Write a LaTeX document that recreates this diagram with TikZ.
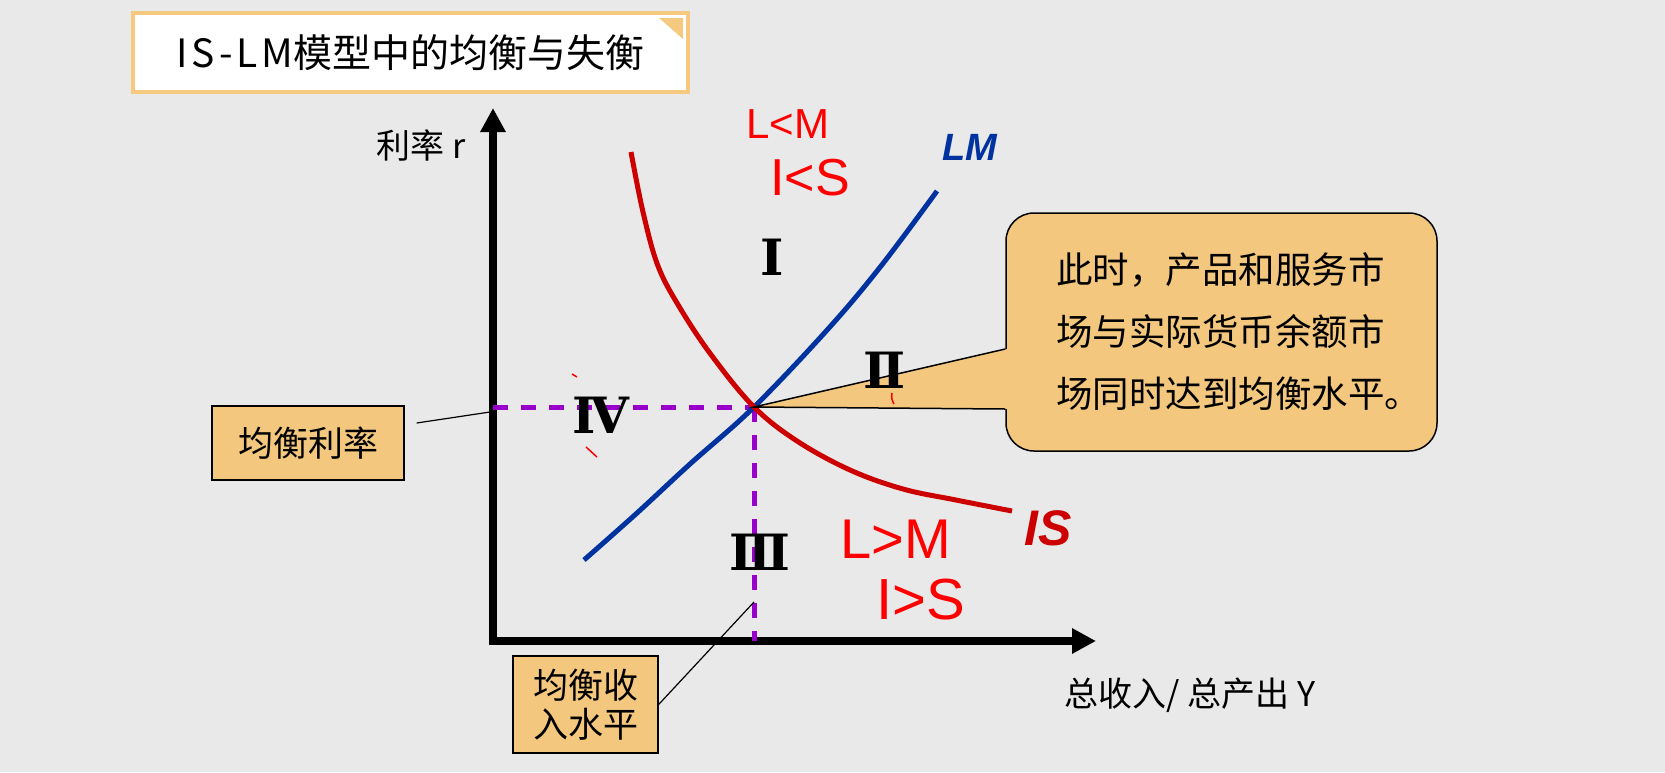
\documentclass[tikz,border=0pt]{standalone}
\usepackage{fontspec}
\setmainfont{Noto Sans CJK SC}
\newfontfamily\curvefont{Liberation Sans}
\newfontfamily\numfont{DejaVu Serif}
\newfontfamily\handfont{Liberation Sans}
\usepackage{tikz}
\usetikzlibrary{arrows.meta, calc}
\definecolor{bgcolor}{HTML}{E9E9E9}
\definecolor{boxcolor}{HTML}{F3C77E}
\definecolor{framecolor}{HTML}{F5C97F}
\definecolor{lmcolor}{HTML}{0033A0}
\definecolor{iscolor}{HTML}{CC0000}
\definecolor{eqcolor}{HTML}{9900CC}
\definecolor{handcolor}{HTML}{FF0000}

\begin{document}
\begin{tikzpicture}[x=1pt, y=-1pt,
    axis/.style={line width=8pt, {Triangle[length=24pt, width=24pt]}-{Triangle[length=24pt, width=24pt]}},
    curve/.style={line width=5pt},
    eqline/.style={eqcolor, line width=5pt, dash pattern=on 15pt off 13pt},
    tag/.style={draw=black, line width=1.3pt, fill=boxcolor, align=center,
        font=\fontsize{35}{42}\selectfont},
    pointer/.style={black, line width=1.2pt},
    numeral/.style={font=\numfont\bfseries\fontsize{50}{50}\selectfont},
    hand/.style={handcolor, font=\handfont\fontsize{#1}{#1}\selectfont},
    handmark/.style={handcolor, line width=1.5pt}]
    % Background
    \useasboundingbox (0,0) rectangle (1665,772);
    \fill[bgcolor] (0,0) rectangle (1665,772);

    % Title
    \node[draw=framecolor, line width=4pt, fill=white, minimum width=555pt,
          minimum height=79pt, font=\fontsize{39}{39}\selectfont] (title)
        at (410.5,52.5) {{\addfontfeature{LetterSpace=10}IS-LM}模型中的均衡与失衡};
    \fill[framecolor] ([shift={(-31,7)}]title.north east)
        -- ([shift={(-7,7)}]title.north east)
        -- ([shift={(-7,28)}]title.north east) -- cycle;

    % Axes
    \coordinate (O) at (493,641);
    \coordinate (ytip) at (493,108);
    \coordinate (xtip) at (1096,641);
    \draw[axis] (ytip) -- (O) -- (xtip);
    \node[font=\fontsize{34}{34}\selectfont] (rlab) at (421,145) {利率 r};
    \node[font=\fontsize{34}{34}\selectfont] (ylab) at (1190,695) {总收入/ 总产出 Y};

    % Equilibrium
    \coordinate (E) at (754,407);
    \draw[eqline] (E -| O) -- (E);
    \draw[eqline] (E) -- (E |- O);

    % Curves
    \draw[curve, lmcolor] plot[smooth, tension=0.6] coordinates
        {(584,560) (637,513) (690,464) (E) (828,329) (881,266) (937,191)};
    \draw[curve, iscolor] plot[smooth, tension=0.6] coordinates
        {(631,152) (643,212) (658,266) (680,308) (712,356) (E) (797,441)
         (850,470) (903,489) (956,500) (1012,511)};
    \node[lmcolor, font=\curvefont\bfseries\itshape\fontsize{38}{38}\selectfont]
        (lmlab) at (970,147) {LM};
    \node[iscolor, font=\curvefont\bfseries\itshape\fontsize{50}{50}\selectfont]
        (islab) at (1048,528) {IS};

    % Callout
    \node[draw=black, line width=1.5pt, fill=boxcolor, rounded corners=28pt,
          text width=331pt, inner xsep=50pt, minimum height=238pt, align=left,
          font=\fontsize{36.5}{62}\selectfont] (note) at (1221.5,332)
        {此时，产品和服务市\\场与实际货币余额市\\场同时达到均衡水平。};
    \coordinate (tailtop) at ([yshift=-17pt]note.west);
    \coordinate (tailbot) at ([yshift=-77pt]note.west);
    \fill[boxcolor] (E) -- ([xshift=2pt]tailtop) -- ([xshift=2pt]tailbot) -- cycle;
    \draw[pointer, line width=1.5pt] (tailtop) -- (E) -- (tailbot);

    % Regions
    \node[numeral] (r1) at (772,257) {Ⅰ};
    \node[numeral] (r2) at (885,370) {Ⅱ};
    \node[numeral] (r3) at (760,552) {Ⅲ};
    \node[numeral] (r4) at (601,415) {Ⅳ};

    % Equilibrium labels
    \node[tag, minimum width=192pt, minimum height=74pt] (rate) at (308,443) {均衡利率};
    \node[tag, minimum width=145pt, minimum height=97pt] (income) at (585.5,704.5)
        {均衡收\\[-3pt]入水平};
    \coordinate (ratept) at (490,412);
    \coordinate (incpt) at (754,602);
    \draw[pointer] ([shift={(12,-20)}]rate.east) -- (ratept);
    \draw[pointer] (income.east) -- (incpt);

    % Notes by hand
    \node[hand=42] (ltm) at (788,124) {L<M};
    \node[hand=52] (its) at (810,178) {I<S};
    \node[hand=56] (lgm) at (896,539) {L>M};
    \node[hand=58] (igs) at (921,600) {I>S};
    \draw[handmark] (572,374) -- (577,377);
    \draw[handmark] (586,447) -- (597,457);
    \draw[handmark] (892,393) to[bend right=20] (894,404);
\end{tikzpicture}
\end{document}
